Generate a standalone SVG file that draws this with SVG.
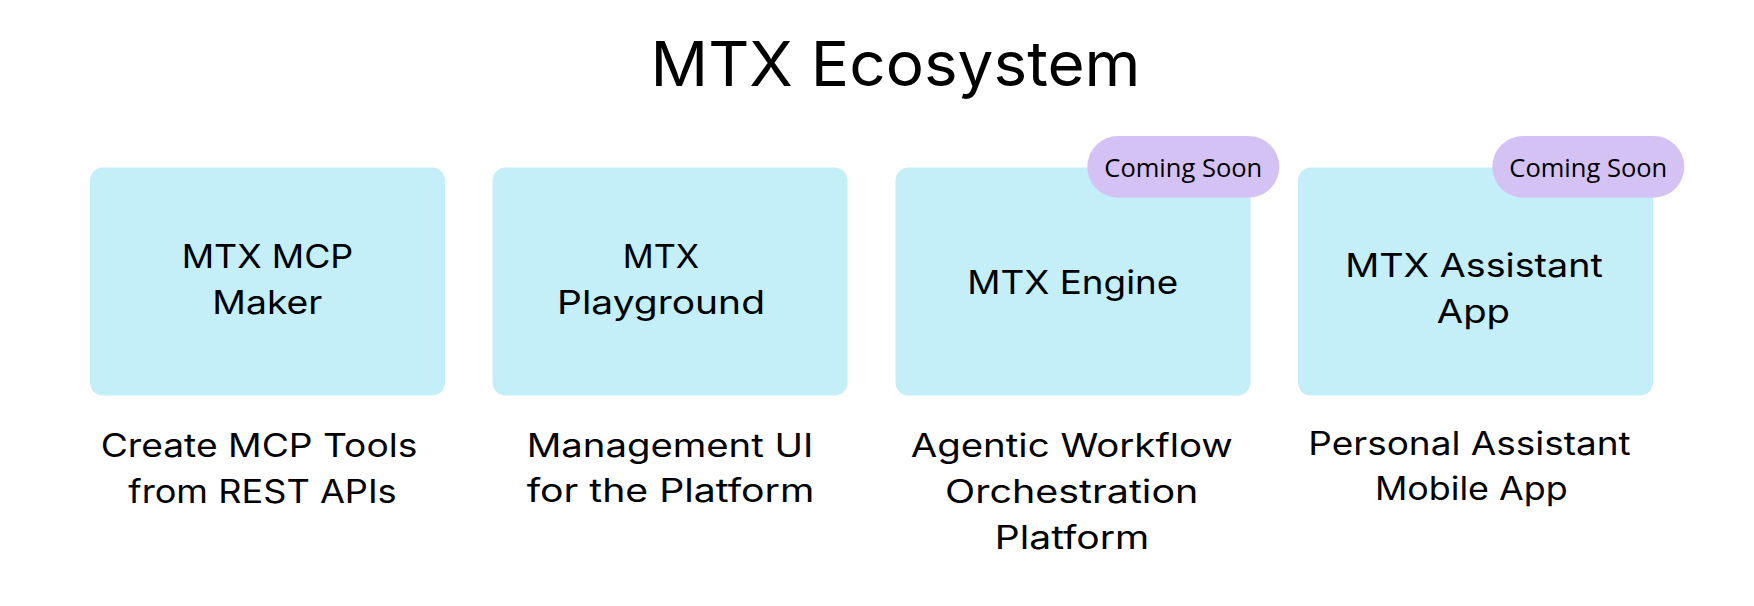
<svg xmlns="http://www.w3.org/2000/svg" width="1754" height="606" viewBox="0 0 1754 606">
  <style>
    .box { fill: #C4EFF8; }
    .badge { fill: #D5C2F4; }
    .t { font-family: Inter, "Liberation Sans", sans-serif; fill: #000000; text-anchor: middle; }
    .title { font-size: 62px; }
    .lbl { font-size: 33px; }
    .desc { font-size: 32px; }
    .bt { font-family: "Open Sans", "Noto Sans", sans-serif; font-size: 25.5px; fill: #000000; text-anchor: middle; }
  </style>
  <rect width="1754" height="606" fill="#FFFFFF"/>
  <g id="title">
    <text class="t title" x="895.5" y="86" textLength="490" lengthAdjust="spacingAndGlyphs">MTX Ecosystem</text>
  </g>
  <g id="connectors"></g>
  <g id="node-mcp-maker">
    <rect class="box" x="90" y="167.5" width="355" height="228" rx="13"/>
    <text class="t lbl" x="267.5" y="268.3" textLength="171.6" lengthAdjust="spacingAndGlyphs">MTX MCP</text>
    <text class="t lbl" x="267.3" y="314" textLength="110" lengthAdjust="spacingAndGlyphs">Maker</text>
    <text class="t desc" x="259" y="457.3" textLength="316.7" lengthAdjust="spacingAndGlyphs">Create MCP Tools</text>
    <text class="t desc" x="262.5" y="502.7" textLength="268.4" lengthAdjust="spacingAndGlyphs">from REST APIs</text>
  </g>
  <g id="node-playground">
    <rect class="box" x="492.5" y="167.5" width="355" height="228" rx="13"/>
    <text class="t lbl" x="661" y="268.3" textLength="76.4" lengthAdjust="spacingAndGlyphs">MTX</text>
    <text class="t lbl" x="661" y="314" textLength="208" lengthAdjust="spacingAndGlyphs">Playground</text>
    <text class="t desc" x="670" y="456.7" textLength="286.7" lengthAdjust="spacingAndGlyphs">Management UI</text>
    <text class="t desc" x="670.5" y="502.3" textLength="287.7" lengthAdjust="spacingAndGlyphs">for the Platform</text>
  </g>
  <g id="node-engine">
    <rect class="box" x="895.5" y="167.5" width="355" height="228" rx="13"/>
    <text class="t lbl" x="1072.8" y="294" textLength="211" lengthAdjust="spacingAndGlyphs">MTX Engine</text>
    <text class="t desc" x="1071.7" y="457.3" textLength="322" lengthAdjust="spacingAndGlyphs">Agentic Workflow</text>
    <text class="t desc" x="1071.7" y="503.3" textLength="253.3" lengthAdjust="spacingAndGlyphs">Orchestration</text>
    <text class="t desc" x="1072" y="549.3" textLength="154.3" lengthAdjust="spacingAndGlyphs">Platform</text>
    <g id="badge-engine">
      <rect class="badge" x="1087.3" y="136" width="192" height="61.7" rx="30.85"/>
      <text class="bt" x="1183.3" y="176.7">Coming Soon</text>
    </g>
  </g>
  <g id="node-assistant">
    <rect class="box" x="1298" y="167.5" width="355" height="228" rx="13"/>
    <text class="t lbl" x="1474" y="277.3" textLength="257.7" lengthAdjust="spacingAndGlyphs">MTX Assistant</text>
    <text class="t lbl" x="1473.4" y="323.3" textLength="73.3" lengthAdjust="spacingAndGlyphs">App</text>
    <text class="t desc" x="1469.5" y="455" textLength="322.3" lengthAdjust="spacingAndGlyphs">Personal Assistant</text>
    <text class="t desc" x="1471.3" y="500" textLength="192.7" lengthAdjust="spacingAndGlyphs">Mobile App</text>
    <g id="badge-assistant">
      <rect class="badge" x="1492.3" y="136" width="192" height="61.7" rx="30.85"/>
      <text class="bt" x="1588.3" y="176.7">Coming Soon</text>
    </g>
  </g>
</svg>
